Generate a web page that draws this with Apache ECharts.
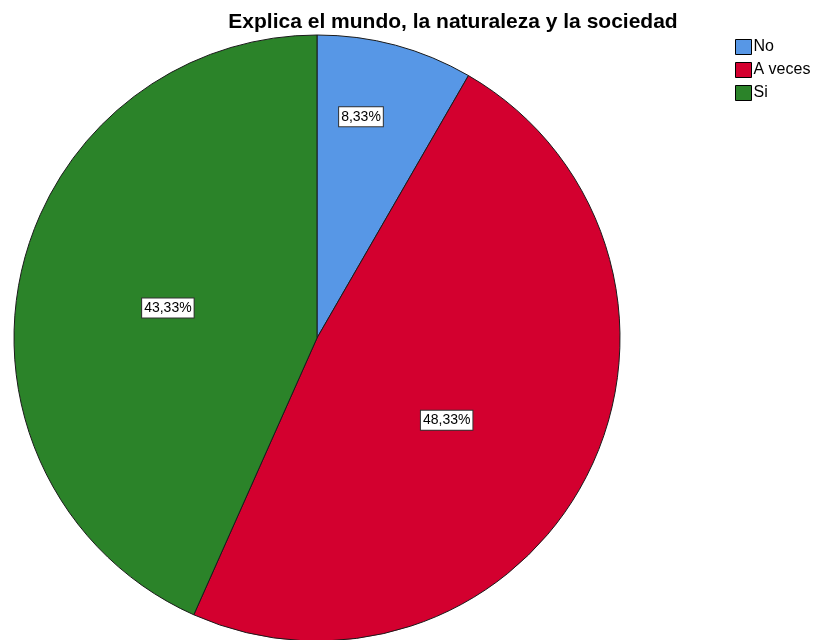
<!DOCTYPE html>
<html>
<head>
<meta charset="utf-8">
<script src="https://cdn.jsdelivr.net/npm/echarts@6/dist/echarts.min.js"></script>
<style>
html,body{margin:0;padding:0;background:#fff;}
#c{width:818px;height:640px;}
</style>
</head>
<body>
<div id="c"></div>
<script>
var titleText = 'Explica el mundo, la naturaleza y la sociedad';
var categories = ['No', 'A veces', 'Si'];
var values = [8.33, 48.33, 43.33];
var colors = ['#5797E6', '#D3002F', '#2B8329'];
var labelOffsets = [[4, -72], [-8, 12], [2, 2]];

var chart = echarts.init(document.getElementById('c'));
var data = categories.map(function (c, i) {
  return {
    name: c,
    value: values[i],
    itemStyle: { color: colors[i] },
    label: { offset: labelOffsets[i] }
  };
});
chart.setOption({
  animation: false,
  title: {
    text: titleText,
    left: 448,
    textAlign: 'center',
    top: 7,
    textStyle: { fontFamily: 'Liberation Sans, Arial, sans-serif', fontWeight: 'bold', fontSize: 21, color: '#000' }
  },
  legend: {
    orient: 'vertical',
    left: 730,
    top: 34,
    itemWidth: 16,
    itemHeight: 15,
    itemGap: 7,
    icon: 'rect',
    itemStyle: { borderColor: '#000', borderWidth: 1 },
    textStyle: { fontFamily: 'Liberation Sans, Arial, sans-serif', fontSize: 16, color: '#000', padding: [0, 0, 0, -3] },
    data: categories
  },
  series: [{
    type: 'pie',
    center: [317, 338],
    radius: 303,
    startAngle: 90,
    clockwise: true,
    avoidLabelOverlap: false,
    itemStyle: { borderColor: '#1a1a1a', borderWidth: 1 },
    label: {
      show: true,
      position: 'inside',
      formatter: function (p) { return p.value.toFixed(2).replace('.', ',') + '%'; },
      fontFamily: 'Liberation Sans, Arial, sans-serif',
      fontSize: 14,
      color: '#000',
      backgroundColor: '#fff',
      borderColor: '#333',
      borderWidth: 1,
      padding: [3, 2, 2, 2]
    },
    labelLine: { show: false },
    emphasis: { disabled: true },
    data: data
  }]
});
</script>
</body>
</html>
